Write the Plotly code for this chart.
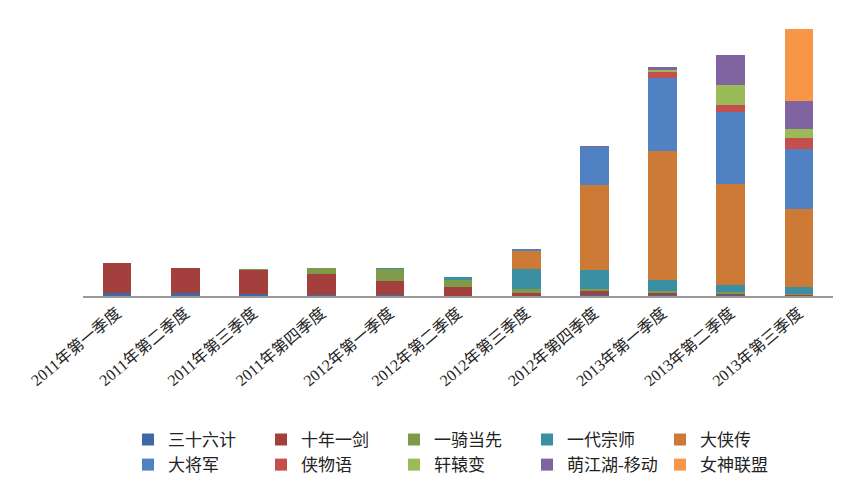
import plotly.graph_objects as go

quarters = ['2011年第一季度', '2011年第二季度', '2011年第三季度', '2011年第四季度',
            '2012年第一季度', '2012年第二季度', '2012年第三季度', '2012年第四季度',
            '2013年第一季度', '2013年第二季度', '2013年第三季度']

sanshiliu = [3.3, 3.3, 2, 1, 1, 0.5, 0.5, 1, 0.7, 0.7, 0.5]
shinian = [30, 25, 24, 21, 14, 9, 3, 4, 2.5, 2, 1]
yiqi = [0, 0, 1, 6, 12, 7, 4, 2, 2, 1, 1]
yidai = [0, 0, 0, 0, 1, 3, 20, 19, 11, 7, 7]
daxia = [0, 0, 0, 0, 0, 0, 18, 85, 129, 101, 78]
dajiang = [0, 0, 0, 0, 0, 0, 2, 38, 73, 72, 60]
xiawu = [0, 0, 0, 0, 0, 0, 0, 0, 5.5, 7, 11]
xuanyuan = [0, 0, 0, 0, 0, 0, 0, 0, 2.7, 20, 9]
mengjiang = [0, 0, 0, 0, 0, 0, 0, 1, 2.7, 30, 28]
nvshen = [0, 0, 0, 0, 0, 0, 0, 0, 0, 0, 72]

series = [
    ('三十六计', sanshiliu, '#3d6aa6'),
    ('十年一剑', shinian, '#a33f3c'),
    ('一骑当先', yiqi, '#7f9a48'),
    ('一代宗师', yidai, '#3b8fa3'),
    ('大侠传', daxia, '#cc7a36'),
    ('大将军', dajiang, '#4f81c3'),
    ('侠物语', xiawu, '#c44f4d'),
    ('轩辕变', xuanyuan, '#9bbb59'),
    ('萌江湖-移动', mengjiang, '#8064a2'),
    ('女神联盟', nvshen, '#f79646'),
]

fig = go.Figure()
for name, vals, color in series:
    fig.add_trace(go.Bar(x=quarters, y=vals, name=name, marker_color=color,
                         marker_line_width=0))

fig.update_layout(
    barmode='stack',
    bargap=0.58,
    width=845, height=489,
    margin=dict(l=75, r=20, t=20, b=201),
    plot_bgcolor='white', paper_bgcolor='white',
    font=dict(family='Liberation Serif, Noto Sans CJK SC', size=16, color='#222222'),
    showlegend=True,
    legend=dict(orientation='h', x=0.06, xanchor='left', y=-0.47, yanchor='top',
                entrywidth=88, entrywidthmode='pixels', traceorder='normal',
                itemwidth=30, font=dict(size=17)),
)
fig.update_xaxes(tickangle=-40, showline=True, linecolor='#999999', linewidth=1.5,
                 ticks='', tickfont=dict(size=16), automargin=False)
fig.update_yaxes(visible=False, range=[0, 268])

fig.write_html("out.html")
